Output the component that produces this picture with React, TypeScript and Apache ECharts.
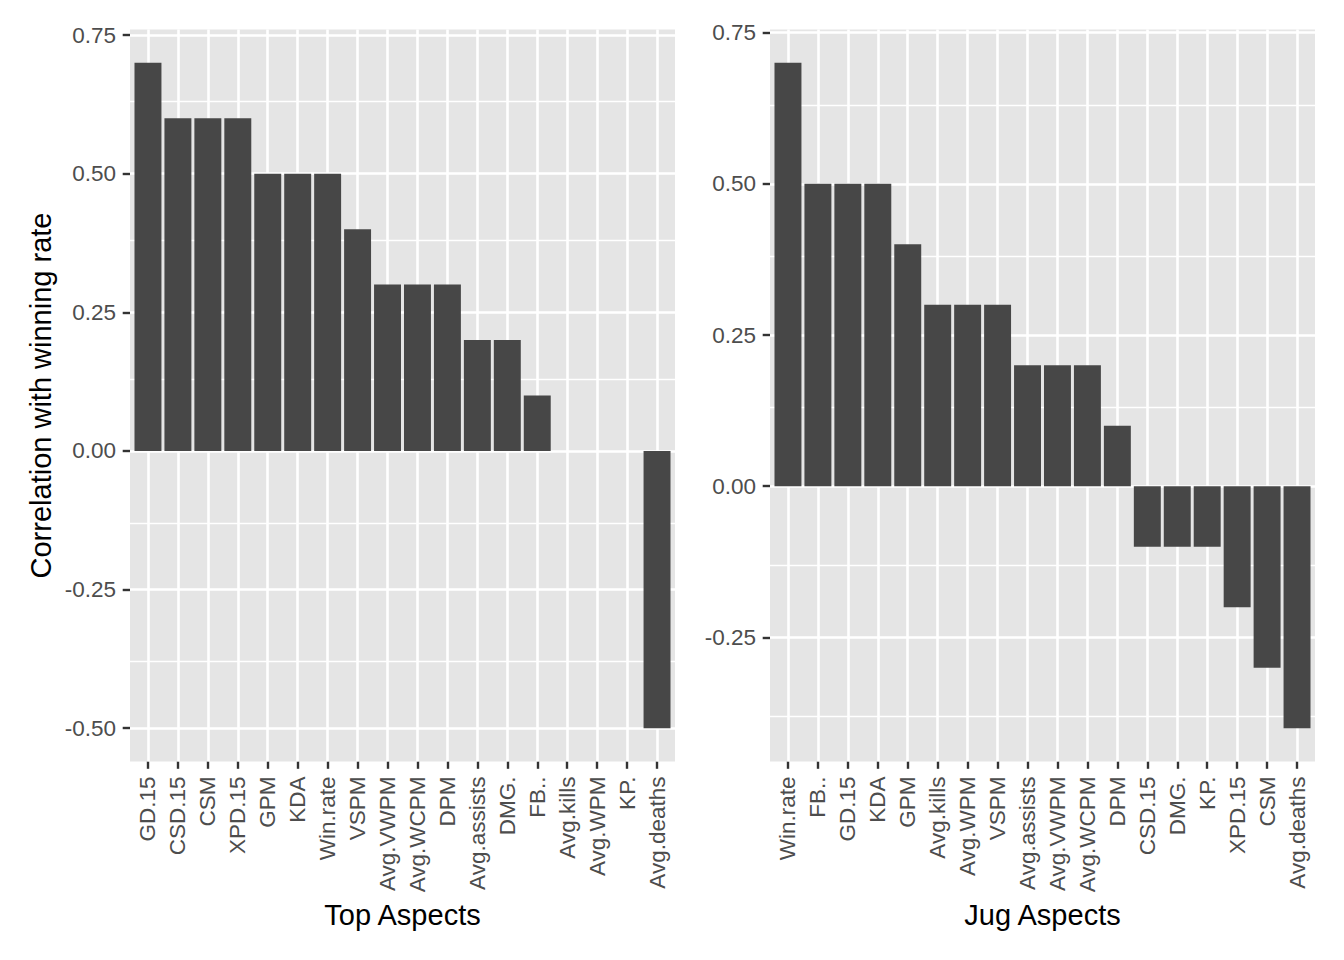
import React, { useEffect, useRef } from "react";
import * as echarts from "echarts";

const topCats = ["GD.15", "CSD.15", "CSM", "XPD.15", "GPM", "KDA", "Win.rate", "VSPM", "Avg.VWPM", "Avg.WCPM", "DPM", "Avg.assists", "DMG.", "FB..", "Avg.kills", "Avg.WPM", "KP.", "Avg.deaths"];
const topValues = [0.7, 0.6, 0.6, 0.6, 0.5, 0.5, 0.5, 0.4, 0.3, 0.3, 0.3, 0.2, 0.2, 0.1, 0, 0, 0, -0.5];

const jugCats = ["Win.rate", "FB..", "GD.15", "KDA", "GPM", "Avg.kills", "Avg.WPM", "VSPM", "Avg.assists", "Avg.VWPM", "Avg.WCPM", "DPM", "CSD.15", "DMG.", "KP.", "XPD.15", "CSM", "Avg.deaths"];
const jugValues = [0.7, 0.5, 0.5, 0.5, 0.4, 0.3, 0.3, 0.3, 0.2, 0.2, 0.2, 0.1, -0.1, -0.1, -0.1, -0.2, -0.3, -0.4];

const topMajorY = [-0.5, -0.25, 0, 0.25, 0.5, 0.75];
const topMinorY = [-0.375, -0.125, 0.125, 0.375, 0.625];
const jugMajorY = [-0.25, 0, 0.25, 0.5, 0.75];
const jugMinorY = [-0.375, -0.125, 0.125, 0.375, 0.625];

const yTitle = "Correlation with winning rate";
const xTitles = ["Top Aspects", "Jug Aspects"];

const FONT = "'Liberation Sans', Arial, Helvetica, sans-serif";
const BG = "#E5E5E5";
const BAR = "#474747";
const TICK_TEXT = "#4D4D4D";
const TICK_LINE = "#333333";

function limits(values: number[]) {
  const lo = Math.min(...values);
  const hi = Math.max(...values);
  const pad = (hi - lo) * 0.05;
  return [lo - pad, hi + pad];
}

function buildPanel(idx: number, cats: string[], values: number[], majorY: number[], minorY: number[]) {
  const positions = cats.map((_, i) => i + 1);
  const [ymin, ymax] = limits(values);
  const xAxis = {
    type: "value",
    gridIndex: idx,
    position: "bottom",
    min: 0.4,
    max: cats.length + 0.6,
    axisLine: { show: false, onZero: false },
    splitLine: { show: false },
    minorSplitLine: { show: false },
    axisTick: {
      show: true,
      customValues: positions,
      length: 7.3,
      lineStyle: { color: TICK_LINE, width: 2.4 },
    },
    axisLabel: {
      show: true,
      customValues: positions,
      rotate: 90,
      margin: 15,
      fontSize: 22.5,
      fontFamily: FONT,
      color: TICK_TEXT,
      formatter: (v: number) => cats[Math.round(v) - 1] ?? "",
    },
    name: xTitles[idx],
    nameLocation: "middle",
    nameGap: 137,
    nameTextStyle: { fontSize: 29, fontFamily: FONT, color: "#000000" },
  };
  const yAxis: any = {
    type: "value",
    gridIndex: idx,
    position: "left",
    min: ymin,
    max: ymax,
    axisLine: { show: false, onZero: false },
    splitLine: { show: false },
    minorSplitLine: { show: false },
    axisTick: {
      show: true,
      customValues: majorY,
      length: 7.3,
      lineStyle: { color: TICK_LINE, width: 2.4 },
    },
    axisLabel: {
      show: true,
      customValues: majorY,
      margin: 14,
      fontSize: 22.5,
      fontFamily: FONT,
      color: TICK_TEXT,
      formatter: (v: number) => v.toFixed(2),
    },
  };
  if (idx === 0) {
    yAxis.name = yTitle;
    yAxis.nameLocation = "middle";
    yAxis.nameGap = 75;
    yAxis.nameTextStyle = { fontSize: 29, fontFamily: FONT, color: "#000000" };
  }
  const gridLines = [
    ...minorY.map((v) => ({ yAxis: v, lineStyle: { color: "#FFFFFF", width: 1.3, type: "solid" } })),
    ...majorY.map((v) => ({ yAxis: v, lineStyle: { color: "#FFFFFF", width: 2.6, type: "solid" } })),
    ...positions.map((v) => ({ xAxis: v, lineStyle: { color: "#FFFFFF", width: 2.6, type: "solid" } })),
  ];
  const series = {
    type: "bar",
    xAxisIndex: idx,
    yAxisIndex: idx,
    data: values.map((v, i) => [positions[i], v]),
    barWidth: "90%",
    itemStyle: { color: BAR },
    z: 2,
    silent: true,
    markLine: {
      z: 1,
      silent: true,
      symbol: ["none", "none"],
      label: { show: false },
      emphasis: { disabled: true },
      lineStyle: { color: "#FFFFFF", type: "solid" },
      data: gridLines,
    },
  };
  return { xAxis, yAxis, series };
}

export default function App() {
  const ref = useRef<HTMLDivElement>(null);
  useEffect(() => {
    if (!ref.current) return;
    const chart = echarts.init(ref.current, undefined, { renderer: "svg" });
    const p0 = buildPanel(0, topCats, topValues, topMajorY, topMinorY);
    const p1 = buildPanel(1, jugCats, jugValues, jugMajorY, jugMinorY);
    chart.setOption({
      animation: false,
      backgroundColor: "#FFFFFF",
      textStyle: { fontFamily: FONT },
      grid: [
        { left: 130, top: 29.5, width: 545, height: 732, show: true, backgroundColor: BG, borderWidth: 0, containLabel: false, outerBoundsMode: "none" },
        { left: 770, top: 29.5, width: 545, height: 732, show: true, backgroundColor: BG, borderWidth: 0, containLabel: false, outerBoundsMode: "none" },
      ],
      xAxis: [p0.xAxis, p1.xAxis],
      yAxis: [p0.yAxis, p1.yAxis],
      series: [p0.series, p1.series],
    });
    return () => chart.dispose();
  }, []);
  return (
    <div
      ref={ref}
      style={{ position: "absolute", left: 0, top: 0, width: 1344, height: 960 }}
    />
  );
}
